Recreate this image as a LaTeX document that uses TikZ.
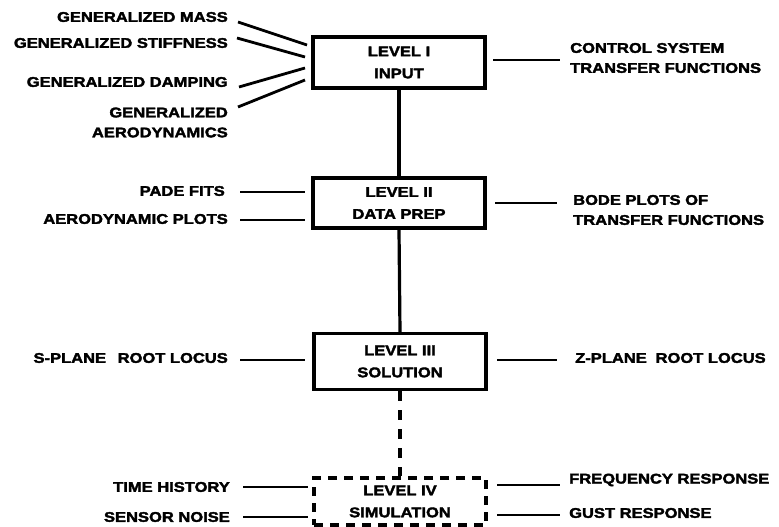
\documentclass[tikz,border=0pt]{standalone}
\usepackage{fontspec}
\newfontfamily\lab{Liberation Sans}[UprightFont=* Bold, FakeStretch=1.18, FakeBold=2.5]
\usetikzlibrary{calc}
\begin{document}
\begin{tikzpicture}[x=1pt,y=-1pt,
  lbl/.style={inner sep=0pt,font=\lab\fontsize{14}{20}\selectfont},
  lleft/.style={lbl,anchor=east,align=right},
  lright/.style={lbl,anchor=west,align=left},
  levelbox/.style={draw,line width=3.2pt,minimum width=172pt,inner sep=0pt,align=center,font=\lab\fontsize{14}{22}\selectfont},
  dashbox/.style={levelbox,dash pattern=on 9pt off 7pt},
  conn/.style={line width=2.8pt},
  trunk/.style={line width=3.2pt},
  dtrunk/.style={line width=3.4pt,dash pattern=on 10pt off 9pt}]
\useasboundingbox (0,0) rectangle (779,527);
% boxes
\node[levelbox,minimum height=51pt] (b1) at (399,62.5) {LEVEL I\\INPUT};
\node[levelbox,minimum height=50pt] (b2) at (399,203) {LEVEL II\\DATA PREP};
\node[levelbox,minimum height=56pt] (b3) at (400,361.5) {LEVEL III\\SOLUTION};
\node[dashbox,minimum height=47pt] (b4) at (400,501.5) {LEVEL IV\\SIMULATION};
% trunk
\draw[trunk] (b1.south) -- (b2.north);
\draw[trunk] (b2.south) -- (b3.north);
\draw[dtrunk] (b3.south) -- (b4.north);
% level I labels
\node[lleft] (mass) at (228,17) {GENERALIZED MASS};
\node[lleft] (stiff) at (228,43) {GENERALIZED STIFFNESS};
\node[lleft] (damp) at (228,82) {GENERALIZED DAMPING};
\node[lleft] (aero) at (228,122.5) {GENERALIZED\\AERODYNAMICS};
\node[lright] (ctrl) at (570,58) {CONTROL SYSTEM\\TRANSFER FUNCTIONS};
\coordinate (m1) at (238,22); \coordinate (m2) at (307,45);
\coordinate (s1) at (237,38); \coordinate (s2) at (305,57);
\coordinate (d1) at (239,87); \coordinate (d2) at (305,68);
\coordinate (a1) at (238,107); \coordinate (a2) at (305,80);
\coordinate (c1) at (493,60); \coordinate (c2) at (560,60);
\draw[conn] (m1) -- (m2);
\draw[conn] (s1) -- (s2);
\draw[conn] (d1) -- (d2);
\draw[conn] (a1) -- (a2);
\draw[conn] (c1) -- (c2);
% level II labels
\node[lleft] (pade) at (225,191) {PADE FITS};
\node[lleft] (aplot) at (228,219) {AERODYNAMIC PLOTS};
\node[lright] (bode) at (573,210) {BODE PLOTS OF\\TRANSFER FUNCTIONS};
\coordinate (p1) at (240,192); \coordinate (p2) at (305,192);
\coordinate (ap1) at (240,220); \coordinate (ap2) at (305,220);
\coordinate (bo1) at (495,203); \coordinate (bo2) at (557,203);
\draw[conn] (p1) -- (p2);
\draw[conn] (ap1) -- (ap2);
\draw[conn] (bo1) -- (bo2);
% level III labels
\node[lleft] (splane) at (228,358) {S-PLANE\hspace{0.5em} ROOT LOCUS};
\node[lright] (zplane) at (575,358) {Z-PLANE\hspace{0.3em} ROOT LOCUS};
\coordinate (sp1) at (240,360); \coordinate (sp2) at (305,360);
\coordinate (zp1) at (497,360); \coordinate (zp2) at (557,360);
\draw[conn] (sp1) -- (sp2);
\draw[conn] (zp1) -- (zp2);
% level IV labels
\node[lleft] (time) at (230,487) {TIME HISTORY};
\node[lleft] (noise) at (230,517) {SENSOR NOISE};
\node[lright] (freq) at (569,480) {FREQUENCY RESPONSE};
\node[lright] (gust) at (569,513) {GUST RESPONSE};
\coordinate (t1) at (243,487); \coordinate (t2) at (308,487);
\coordinate (n1) at (243,517); \coordinate (n2) at (308,517);
\coordinate (f1) at (497,485); \coordinate (f2) at (560,485);
\coordinate (g1) at (497,515); \coordinate (g2) at (560,515);
\draw[conn] (t1) -- (t2);
\draw[conn] (n1) -- (n2);
\draw[conn] (f1) -- (f2);
\draw[conn] (g1) -- (g2);
\end{tikzpicture}
\end{document}
